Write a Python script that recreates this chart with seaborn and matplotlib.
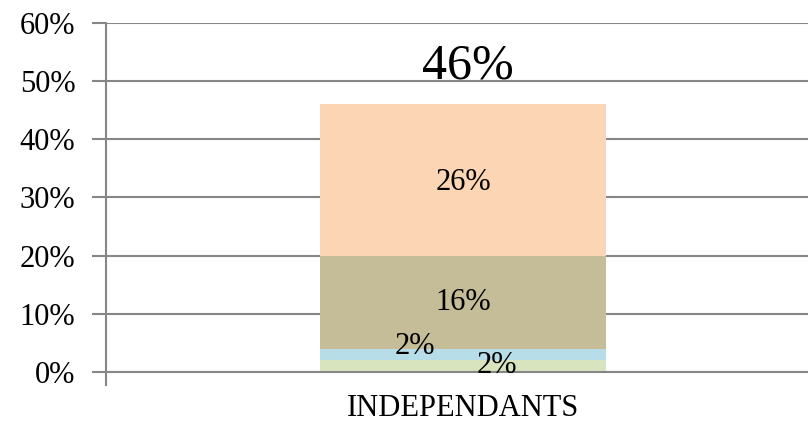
import numpy as np
import pandas as pd
import matplotlib.pyplot as plt
import seaborn as sns

sns.set_style("white")
plt.rcParams['font.family'] = ['Liberation Serif', 'DejaVu Serif']
plt.rcParams['text.color'] = 'black'

category = ["INDEPENDANTS"]
# stacked segments, bottom to top (percent)
segments = [2, 2, 16, 26]
seg_colors = ["#d7e4bd", "#b7dde8", "#c4bd97", "#fcd5b5"]
seg_labels = ["2%", "2%", "16%", "26%"]
total = sum(segments)
yticks = [0, 10, 20, 30, 40, 50, 60]

fig = plt.figure(figsize=(8.08, 4.22), dpi=100)
ax = fig.add_axes([0.131, 0.1185, 0.885, 0.827])

bottom = 0
for val, col in zip(segments, seg_colors):
    df = pd.DataFrame({"cat": category, "val": [val]})
    sns.barplot(data=df, x="cat", y="val", color=col, bottom=bottom,
                width=0.40, saturation=1, ax=ax, linewidth=0)
    bottom += val

ax.set_xlim(-0.5, 0.5)
ax.set_ylim(0, 60)
ax.set_yticks(yticks)
ax.set_yticklabels([f"{t}%" for t in yticks], fontsize=22, color="black")
ax.yaxis.grid(True, color="#868686", linewidth=1.5)
ax.set_axisbelow(True)

# category boundary ticks + centered label
ax.set_xticks([-0.5, 0.5])
ax.set_xticklabels(["", ""])
ax.set_xticks([0], minor=True)
ax.set_xticklabels(category, minor=True, fontsize=22, color="black")
ax.tick_params(axis="x", which="major", bottom=True, length=10, width=1.5,
               color="#868686", direction="out")
ax.tick_params(axis="x", which="minor", bottom=True, length=0, pad=16)
ax.tick_params(axis="y", left=True, length=10, width=1.5, color="#868686",
               direction="out", pad=12)
ax.set_xlabel("")
ax.set_ylabel("")

for s in ["top", "right"]:
    ax.spines[s].set_visible(False)
for s in ["left", "bottom"]:
    ax.spines[s].set_color("#868686")
    ax.spines[s].set_linewidth(1.5)

# segment labels
ax.text(0.047, 1.2, seg_labels[0], ha="center", va="center", fontsize=22)
ax.text(-0.068, 4.3, seg_labels[1], ha="center", va="center", fontsize=22)
ax.text(0.0, 12.0, seg_labels[2], ha="center", va="center", fontsize=22)
ax.text(0.0, 32.5, seg_labels[3], ha="center", va="center", fontsize=22)
ax.text(0.006, 52.5, f"{total}%", ha="center", va="center", fontsize=36)

plt.savefig("out.png", dpi=100)
